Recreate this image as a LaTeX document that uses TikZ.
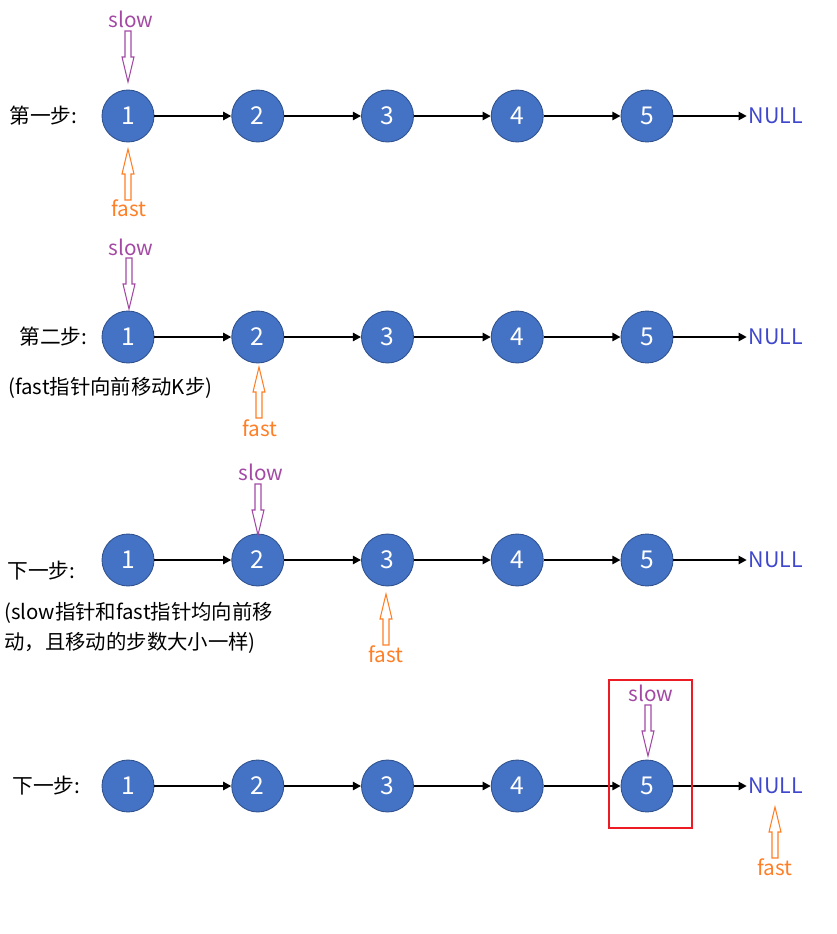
\documentclass[tikz,border=0pt]{standalone}
\usepackage{fontspec}
\setmainfont{Noto Sans CJK SC}
\usetikzlibrary{arrows.meta}

\definecolor{nodeblue}{HTML}{4472C4}
\definecolor{nodeedge}{HTML}{2F528F}
\definecolor{slowc}{HTML}{A349A4}
\definecolor{fastc}{HTML}{FF7F27}
\definecolor{nullc}{HTML}{3F48CC}
\definecolor{boxred}{HTML}{ED1C24}

\tikzset{
  listnode/.style={circle, fill=nodeblue, draw=nodeedge, line width=0.5pt,
    minimum size=1.04cm, inner sep=0pt, text=white, font=\fontsize{14}{16}\selectfont},
  nullnode/.style={text=nullc, inner sep=1pt, font=\fontsize{12.2}{14}\selectfont},
  link/.style={line width=1.1pt, -{Triangle[length=4.6pt,width=4.6pt]}},
  steplbl/.style={anchor=west, inner sep=0pt, font=\fontsize{11.8}{14}\selectfont},
  desclbl/.style={anchor=west, inner sep=0pt, align=left, font=\fontsize{11.6}{17}\selectfont},
  ptrlbl/.style={inner sep=0pt, font=\fontsize{11.8}{14}\selectfont},
  ptr/.pic={\draw[line width=0.6pt] (-3,0) -- (-3,26) -- (-6,26) -- (0,51) -- (6,26) -- (3,26) -- (3,0) -- cycle;}
}

\begin{document}
\begin{tikzpicture}[x=0.02cm, y=-0.02cm]
\useasboundingbox (0,0) rectangle (836,934);

% the four lists
\foreach \r/\y in {a/116, b/337, c/560, d/786} {
  \foreach \i in {1,...,5}
    \node[listnode] (\r\i) at ({128+129.75*(\i-1)},\y) {\i};
  \node[nullnode] (\r6) at (776,\y) {NULL};
  \foreach \i/\j in {1/2, 2/3, 3/4, 4/5, 5/6}
    \draw[link] (\r\i) -- (\r\j);
}

% step labels
\node[steplbl] (stepA) at (9,116) {第一步:};
\node[steplbl] (stepB) at (19,337) {第二步:};
\node[desclbl] (descB) at (8,388) {(fast指针向前移动K步)};
\node[steplbl] (stepC) at (7,571) {下一步:};
\node[desclbl] (descC) at (4,628) {(slow指针和fast指针均向前移\\动，且移动的步数大小一样)};
\node[steplbl] (stepD) at (12,786) {下一步:};

% slow pointers
\node[ptrlbl, text=slowc] (slowA) at (131,19) {slow};
\pic[slowc] at (128,31) {ptr};
\node[ptrlbl, text=slowc] (slowB) at (131,247) {slow};
\pic[slowc] at (129,258) {ptr};
\node[ptrlbl, text=slowc] (slowC) at (261,472) {slow};
\pic[slowc] at (258,484) {ptr};
\node[ptrlbl, text=slowc] (slowD) at (651,693) {slow};
\pic[slowc] at (648,705) {ptr};

% fast pointers
\pic[fastc, rotate=180] at (128,200) {ptr};
\node[ptrlbl, text=fastc] (fastA) at (129,208) {fast};
\pic[fastc, rotate=180] at (259,418) {ptr};
\node[ptrlbl, text=fastc] (fastB) at (260,428) {fast};
\pic[fastc, rotate=180] at (386,645) {ptr};
\node[ptrlbl, text=fastc] (fastC) at (386,654) {fast};
\pic[fastc, rotate=180] at (775,858) {ptr};
\node[ptrlbl, text=fastc] (fastD) at (775,867) {fast};

% meeting point
\draw[boxred, line width=1.4pt] (609,680) rectangle (692,828);
\end{tikzpicture}
\end{document}
